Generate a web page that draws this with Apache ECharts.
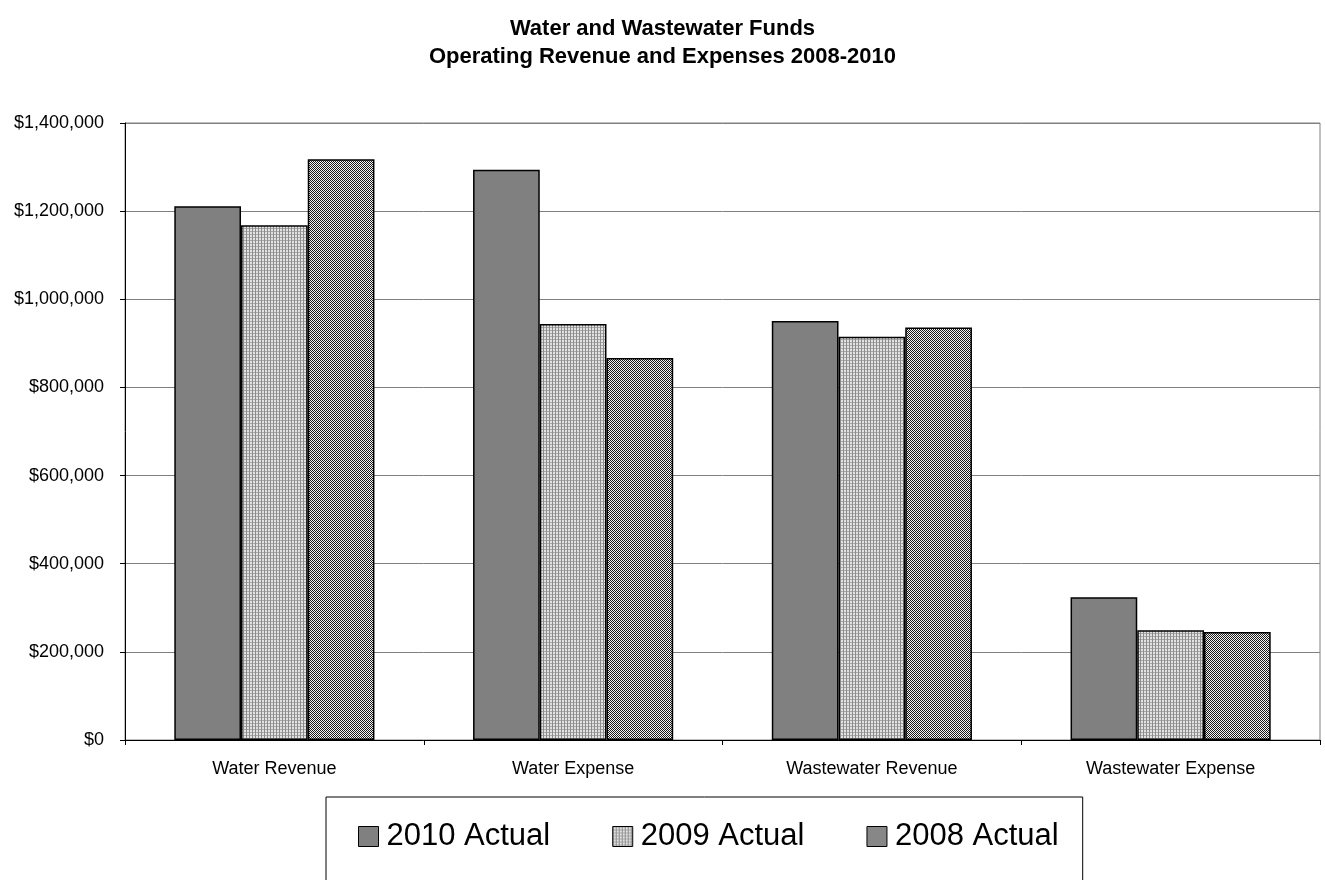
<!DOCTYPE html>
<html>
<head>
<meta charset="utf-8">
<script src="https://cdn.jsdelivr.net/npm/echarts@6/dist/echarts.min.js"></script>
<style>
  html, body { margin: 0; padding: 0; background: #fff; }
  #chart { width: 1325px; height: 880px; }
</style>
</head>
<body>
<div id="chart"></div>
<script>
// Operating revenue and expenses by fund
const categories = ['Water Revenue', 'Water Expense', 'Wastewater Revenue', 'Wastewater Expense'];
const seriesNames = ['2010 Actual', '2009 Actual', '2008 Actual'];
const actual2010 = [1211000, 1294000, 951000, 324000];
const actual2009 = [1168000, 944000, 915000, 249000];
const actual2008 = [1318000, 867000, 936000, 245000];

// Small tiled fills for the hatched bars
function makeTile(size, draw) {
  const c = document.createElement('canvas');
  c.width = size; c.height = size;
  const ctx = c.getContext('2d');
  draw(ctx);
  return c;
}
const gridTile = makeTile(3, ctx => {
  ctx.fillStyle = '#e2e2e2'; ctx.fillRect(0, 0, 3, 3);
  ctx.fillStyle = '#8c8c8c'; ctx.fillRect(0, 0, 1, 3);
  ctx.fillStyle = '#a8a8a8'; ctx.fillRect(1, 0, 2, 1);
});
const checkTile = makeTile(2, ctx => {
  ctx.fillStyle = '#f4f4f4'; ctx.fillRect(0, 0, 2, 2);
  ctx.fillStyle = '#1a1a1a'; ctx.fillRect(0, 0, 1, 1); ctx.fillRect(1, 1, 1, 1);
});

const fills = [
  '#808080',
  { image: gridTile, repeat: 'repeat' },
  { image: checkTile, repeat: 'repeat' }
];
const values = [actual2010, actual2009, actual2008];

const chart = echarts.init(document.getElementById('chart'), null, { renderer: 'canvas' });

const fontFamily = 'Liberation Sans, Arial, sans-serif';

chart.setOption({
  animation: false,
  backgroundColor: '#ffffff',
  title: {
    text: 'Water and Wastewater Funds\nOperating Revenue and Expenses 2008-2010',
    left: 'center',
    top: 10,
    textStyle: { fontFamily, fontSize: 22, fontWeight: 'bold', color: '#000', lineHeight: 28 }
  },
  legend: {
    left: 326,
    top: 797,
    padding: [24, 24, 60, 32],
    itemWidth: 20,
    itemHeight: 20,
    itemGap: 62,
    borderColor: '#000',
    borderWidth: 1,
    textStyle: { fontFamily, fontSize: 31, color: '#000', padding: [0, 0, 0, 3] },
    itemStyle: { borderColor: '#000', borderWidth: 1 },
    icon: 'rect',
    data: seriesNames
  },
  grid: {
    left: 125, right: 5, top: 123, bottom: 140,
    show: true, borderColor: '#808080', borderWidth: 1, containLabel: false
  },
  xAxis: {
    type: 'category',
    data: categories,
    axisLine: { lineStyle: { color: '#000', width: 1 } },
    axisTick: { show: true, length: 5, lineStyle: { color: '#000' } },
    axisLabel: { fontFamily, fontSize: 18, color: '#000', margin: 20 }
  },
  yAxis: {
    type: 'value',
    min: 0,
    max: 1400000,
    interval: 200000,
    axisLine: { show: true, lineStyle: { color: '#000', width: 1 } },
    axisTick: { show: true, length: 5, lineStyle: { color: '#000' } },
    splitLine: { lineStyle: { color: '#808080', width: 1 } },
    axisLabel: {
      fontFamily, fontSize: 18, color: '#000', margin: 21,
      formatter: v => '$' + v.toLocaleString('en-US')
    }
  },
  series: seriesNames.map((name, i) => ({
    name,
    type: 'bar',
    data: values[i],
    barGap: '0%',
    barCategoryGap: '33%',
    itemStyle: { color: fills[i], borderColor: '#000', borderWidth: 1.5 }
  }))
});
</script>
</body>
</html>
